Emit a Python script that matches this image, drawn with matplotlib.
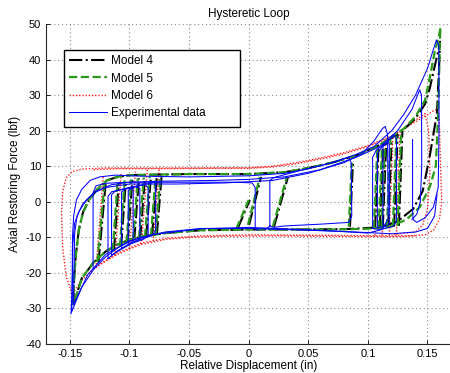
import matplotlib
matplotlib.use("Agg")
import matplotlib.pyplot as plt
import numpy as np
from matplotlib.patches import Rectangle

plt.rcParams['font.family'] = ['Liberation Sans', 'DejaVu Sans']

# ---- Experimental data (blue) : main cycles ----
exp_a_x = [-0.149, -0.1485, -0.148, -0.1478, -0.1468, -0.1445, -0.140, -0.133, -0.125, -0.112, -0.09, -0.05,
           0.0, 0.03, 0.05, 0.07, 0.09, 0.105, 0.12, 0.13, 0.14, 0.15, 0.1575, 0.1595, 0.1597, 0.159,
           0.155, 0.148, 0.141, 0.138, 0.1375, 0.1375]
exp_a_y = [-31.5, -28, -20, -10, -4, 0.5, 3.5, 6, 7, 7.5, 7.2, 7,
           7.3, 8, 9.3, 11, 13.3, 15.5, 20, 24.5, 30, 37.5, 45.5, 44, 20, 4,
           -1.5, -4.5, -5.8, -5, -2, 17.5]

exp_b_x = [0.158, 0.156, 0.15, 0.14, 0.12, 0.09, 0.05, 0.0, -0.04, -0.07, -0.09, -0.1, -0.11, -0.12,
           -0.13, -0.14, -0.1485, -0.148, -0.1475, -0.146, -0.142, -0.136, -0.128, -0.115, -0.1, -0.07,
           -0.03, 0.0, 0.03, 0.06, 0.09, 0.11, 0.125, 0.137, 0.1435, 0.145, 0.1452, 0.144, 0.141, 0.137]
exp_b_y = [2, -4, -7.5, -8.5, -9, -8.5, -8, -7.5, -7.5, -8.5, -10, -11.2, -13, -15.5,
           -19, -24, -31, -27, -12, -6, -2.5, 0.5, 3, 4.8, 5.5, 5.8,
           6, 6.3, 7, 9, 12.5, 15.5, 20, 26, 31.5, 30, 10, 0, -3.5, -5]

exp_c_x = [0.1165, 0.112, 0.1, 0.07, 0.03, 0.0, -0.04, -0.08, -0.1, -0.12, -0.135, -0.147, -0.1465,
           -0.146, -0.144, -0.139, -0.13, -0.12, -0.1, -0.06, -0.02, 0.02, 0.05, 0.08, 0.095, 0.105,
           0.112, 0.1145, 0.1165, 0.117]
exp_c_y = [-5, -7.8, -8.8, -8.2, -7.6, -7.2, -7.6, -9.2, -11, -14.8, -20.5, -29, -20,
           -9, -4, -0.5, 2.5, 4, 5, 5, 5.3, 6, 8, 11, 13.5, 17,
           20.5, 21.2, 19, -4]

exp_d_x = [-0.1305, -0.1305, -0.128, -0.12, -0.1, -0.05, -0.01, 0.003, 0.0055, 0.0055, 0.008]
exp_d_y = [-18.5, 2.5, 4.5, 5.2, 5.5, 5.5, 5.5, 5.3, 4, -7.5, -8]

exp_e_x = [0.014, 0.0178, 0.0178, 0.021, 0.04, 0.07, 0.084, 0.086, 0.0865, 0.084, 0.06, 0.03, 0.021, 0.0178]
exp_e_y = [-7.8, -6.8, 6.0, 6.8, 8.5, 11, 12.5, 11, -4, -5.8, -6.3, -6.8, -7.2, -6.8]

# left minor loops (blue)
exp_l1_x = [-0.118, -0.118, -0.115, -0.1, -0.085, -0.079, -0.078, -0.078, -0.081, -0.09, -0.1, -0.11, -0.118]
exp_l1_y = [-16, 1.5, 2.8, 4, 5, 5.6, 4.5, -8, -9.5, -10.5, -11.8, -13.8, -16]
exp_l2_x = [-0.115, -0.115, -0.112, -0.1, -0.087, -0.0843, -0.0843, -0.088, -0.1, -0.115]
exp_l2_y = [-15, 2, 3, 4, 4.8, 4, -9.5, -10.5, -12, -15]
exp_l3_x = [-0.1066, -0.1066, -0.104, -0.095, -0.0913, -0.0913, -0.095, -0.1066]
exp_l3_y = [-13.2, 2.8, 3.5, 4.2, 3.8, -10.5, -11, -13.2]
exp_l4_x = [-0.101, -0.101, -0.0969, -0.0969, -0.101]
exp_l4_y = [-12.2, 3.2, 4, -11, -12.2]

# right minor loops (blue)
exp_r1_x = [0.104, 0.104, 0.107, 0.115, 0.1225, 0.124, 0.124, 0.121, 0.11, 0.104]
exp_r1_y = [-7.5, 12.5, 14.5, 16.5, 18.8, 17.5, -5.5, -7, -7.8, -7.5]
exp_r2_x = [0.108, 0.108, 0.111, 0.117, 0.118, 0.118, 0.115, 0.108]
exp_r2_y = [-7.2, 13.5, 15, 17, 16, -6, -7, -7.2]
exp_r3_x = [0.1126, 0.1126, 0.1145]
exp_r3_y = [-6.5, 15.5, 16.3]

# ---- Model 5 (green dashed) ----
m5_a_x = [-0.147, -0.1465, -0.145, -0.1425, -0.139, -0.134, -0.127, -0.119, -0.11, -0.1, -0.05, 0.0,
          0.03, 0.05, 0.07, 0.09, 0.1, 0.11, 0.12, 0.13, 0.14, 0.148, 0.152, 0.156, 0.1595, 0.161,
          0.1605, 0.159, 0.157, 0.152, 0.1436, 0.132, 0.118, 0.1, 0.07, 0.03, 0.0, -0.04, -0.07,
          -0.09, -0.1, -0.11, -0.12, -0.13, -0.14, -0.147]
m5_a_y = [-29, -22, -15, -8, -3, 0.5, 3.5, 6, 7, 7.5, 7.8, 7.8,
          8.3, 9.5, 11, 13, 14.5, 16, 18.3, 20.5, 24, 28.6, 35, 42, 46.5, 49,
          46, 25, 10, 4.2, -1.5, -5.1, -7, -7.6, -7.8, -7.8, -7.8, -8, -8.8,
          -9.8, -10.7, -12, -14, -17, -21.5, -29]

# ---- Model 4 (black dash-dot) ----
m4_a_x = [-0.147, -0.1465, -0.145, -0.1425, -0.139, -0.134, -0.127, -0.119, -0.11, -0.1, -0.05, 0.0,
          0.03, 0.05, 0.07, 0.09, 0.1, 0.11, 0.12, 0.13, 0.14, 0.148, 0.152, 0.156, 0.1595, 0.1605,
          0.16, 0.158, 0.152, 0.146, 0.138, 0.125, 0.11, 0.08, 0.04, 0.0, -0.04, -0.07,
          -0.09, -0.1, -0.11, -0.12, -0.13, -0.14, -0.147]
m4_a_y = [-29, -22, -15, -8, -3, 0.5, 3.5, 6, 7, 7.5, 7.8, 7.8,
          8.3, 9.5, 11, 13, 14.5, 16, 18, 20.3, 23.5, 27.5, 32, 38, 43, 45,
          40, 25, 13, 3, -2, -5.5, -7.2, -7.7, -7.8, -7.8, -8, -8.8,
          -9.8, -10.7, -12, -14, -17, -21.5, -29]

# model steep strokes (bottom x, bottom y, top x, top y), shared by models 4 and 5
stroke_x0 = [-0.127, -0.114, -0.108, -0.1025, -0.097, -0.092, -0.087, -0.082, -0.078,
             -0.0102, -0.0006, 0.0203, 0.084, 0.105, 0.109, 0.1115, 0.116, 0.121, 0.125]
stroke_y0 = [-17, -13.8, -12.6, -11.5, -10.8, -10.3, -9.9, -9.5, -9.2,
             -7.5, -6.5, -7, -7, -7.5, -7.5, -7.3, -7.2, -7, -6.8]
stroke_x1 = [-0.121, -0.110, -0.104, -0.0985, -0.093, -0.088, -0.083, -0.078, -0.074,
             0.0, 0.0094, 0.032, 0.0865, 0.108, 0.112, 0.1145, 0.119, 0.124, 0.128]
stroke_y1 = [5, 5.5, 6, 6.3, 6.6, 6.8, 7, 7.2, 7.3,
             0.5, 7, 7, 11, 15.5, 16.5, 17, 18, 19, 20]

# ---- Model 6 (red dotted) ----
m6_a_x = [-0.148, -0.153, -0.156, -0.157, -0.156, -0.153, -0.148, -0.14, -0.12, -0.08, -0.04, 0.0,
          0.02, 0.04, 0.06, 0.08, 0.1, 0.12, 0.13, 0.14, 0.15, 0.156, 0.159, 0.16, 0.161, 0.162,
          0.16, 0.155, 0.148, 0.13, 0.1, 0.06, 0.02, -0.02, -0.05, -0.07, -0.09, -0.1, -0.11, -0.12,
          -0.13, -0.14, -0.148]
m6_a_y = [-26, -21, -13, -3, 3, 6.8, 8.5, 9.2, 9.5, 9.5, 9.5, 9.6,
          10, 11, 12.3, 13.8, 15.8, 18.5, 20.5, 22.5, 24.5, 25.8, 26, 22, 10, 0,
          -5, -8, -9.3, -9.8, -9.8, -9.7, -9.6, -9.7, -10, -10.6, -12, -13.3, -14.8, -16.7,
          -19, -22, -26]
m6_b_x = [0.13, 0.14, 0.148, 0.151, 0.152, 0.15, 0.146, 0.14, 0.12]
m6_b_y = [20.5, 23, 24.8, 20, 8, -2, -6.5, -8.5, -9.2]
# repeated cycles lying on the outer red bands
m6_c_x = [-0.13, -0.11, -0.08, -0.04, 0.0, 0.02, 0.04, 0.06, 0.08, 0.1, 0.12]
m6_c_y = [9.0, 9.3, 9.3, 9.4, 9.4, 9.8, 10.7, 12.0, 13.5, 15.5, 18.2]
m6_d_x = [0.14, 0.12, 0.09, 0.05, 0.0, -0.04, -0.07, -0.09, -0.11, -0.13]
m6_d_y = [-9.5, -9.6, -9.5, -9.4, -9.3, -9.6, -10.3, -11.6, -14.4, -18.6]
m6_stroke_x0 = [-0.128, -0.112, -0.1, -0.09, -0.08, 0.106, 0.112, 0.118, 0.124]
m6_stroke_y0 = [-18.5, -15, -13.3, -12, -11, -9.5, -9.5, -9.3, -9.3]
m6_stroke_x1 = [-0.122, -0.107, -0.095, -0.085, -0.075, 0.109, 0.115, 0.121, 0.127]
m6_stroke_y1 = [7, 8, 8.5, 9, 9.2, 16, 17.5, 19, 20]

x_ticks = [-0.15, -0.1, -0.05, 0, 0.05, 0.1, 0.15]
x_tick_labels = ['-0.15', '-0.1', '-0.05', '0', '0.05', '0.1', '0.15']
y_ticks = [-40, -30, -20, -10, 0, 10, 20, 30, 40, 50]
y_tick_labels = ['-40', '-30', '-20', '-10', '0', '10', '20', '30', '40', '50']


def strokes(x0, y0, x1, y1):
    xs, ys = [], []
    for a, b, c, d in zip(x0, y0, x1, y1):
        xs += [a, c, np.nan]
        ys += [b, d, np.nan]
    return xs, ys


fig = plt.figure(figsize=(4.5, 3.73), dpi=100)
ax = fig.add_axes([46 / 450, 29 / 373, 405.3 / 450, 320 / 373])

black = dict(color='black', ls='-.', lw=1.5, zorder=2)
green = dict(color='#2a9a1a', ls='--', lw=1.6, zorder=2.1)
red = dict(color='#ff2020', ls=(0, (1, 1.3)), lw=1.0, zorder=1.9)
blue = dict(color='#0000ff', ls='-', lw=0.75, zorder=3)

# model 4
ax.plot(m4_a_x, m4_a_y, label='Model 4', **black)
sx, sy = strokes([v + 0.001 for v in stroke_x0], stroke_y0, [v + 0.001 for v in stroke_x1], stroke_y1)
ax.plot(sx, sy, **black)
# model 5
ax.plot(m5_a_x, m5_a_y, label='Model 5', **green)
sx, sy = strokes(stroke_x0, stroke_y0, stroke_x1, stroke_y1)
ax.plot(sx, sy, **green)
# model 6
ax.plot(m6_a_x, m6_a_y, label='Model 6', **red)
ax.plot(m6_b_x, m6_b_y, **red)
ax.plot(m6_c_x, m6_c_y, **red)
ax.plot(m6_d_x, m6_d_y, **red)
sx, sy = strokes(m6_stroke_x0, m6_stroke_y0, m6_stroke_x1, m6_stroke_y1)
ax.plot(sx, sy, **red)
# experimental
ax.plot(exp_a_x, exp_a_y, label='Experimental data', **blue)
for px, py in [(exp_b_x, exp_b_y), (exp_c_x, exp_c_y), (exp_d_x, exp_d_y), (exp_e_x, exp_e_y),
               (exp_l1_x, exp_l1_y), (exp_l2_x, exp_l2_y), (exp_l3_x, exp_l3_y), (exp_l4_x, exp_l4_y),
               (exp_r1_x, exp_r1_y), (exp_r2_x, exp_r2_y), (exp_r3_x, exp_r3_y)]:
    ax.plot(px, py, **blue)

ax.set_xlim(-0.17, 0.17)
ax.set_ylim(-40, 50)
ax.set_xticks(x_ticks)
ax.set_xticklabels(x_tick_labels)
ax.set_yticks(y_ticks)
ax.set_yticklabels(y_tick_labels)
ax.tick_params(direction='in', length=3, labelsize=8, width=0.6)
ax.grid(True, ls=(0, (1, 2.5)), color='0.55', lw=0.8)
ax.spines['top'].set_visible(False)
ax.spines['right'].set_visible(False)
for s in ['left', 'bottom']:
    ax.spines[s].set_color('0.15')
    ax.spines[s].set_linewidth(0.8)

ax.set_title('Hysteretic Loop', fontsize=8.5, pad=5)
ax.set_xlabel('Relative Displacement (in)', fontsize=8.5, labelpad=1)
ax.set_ylabel('Axial Restoring Force (lbf)', fontsize=8.5, labelpad=3)

# legend frame drawn separately (MATLAB-style wide box)
frame = Rectangle((18 / 405.3, 217 / 320), 176 / 405.3, 77 / 320, transform=ax.transAxes,
                  facecolor='white', edgecolor='black', lw=1.0, zorder=4)
ax.add_patch(frame)
leg = ax.legend(loc='upper left', bbox_to_anchor=(18 / 405.3, 294 / 320), frameon=False,
                fontsize=8.5, handlelength=3.2, handletextpad=0.35, labelspacing=0.45,
                borderpad=0.45, borderaxespad=0)
leg.set_zorder(5)

fig.savefig('out.png', dpi=100)
